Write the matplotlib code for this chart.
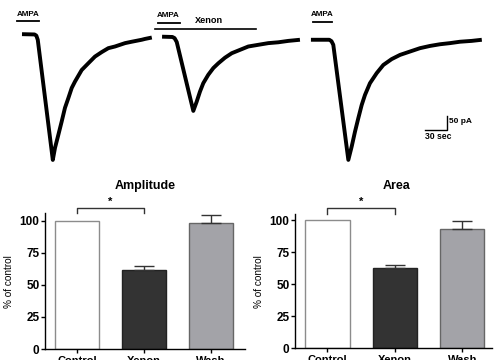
import matplotlib.pyplot as plt

plt.rcParams['font.family'] = ['Liberation Sans', 'DejaVu Sans']
plt.rcParams['font.weight'] = 'bold'

# current traces: time (sec), current (pA)
control_t = [0, 17, 19.5, 21.5, 42, 45, 49.5, 54.1, 58.6, 63.1, 67.8, 72.3, 81.4,
             90.4, 99.5, 108.7, 117.7, 126.8, 140.5, 149.6, 163.2, 167.7, 177]
control_i = [-1, -2, -6, -21, -450, -407, -361, -313, -264, -230, -193, -170, -129,
             -105, -81, -65, -51, -45, -33, -28, -21, -18, -13]
xenon_t = [191, 205, 208, 211, 233.6, 238.2, 242.7, 247.2, 254, 260.9, 267.7, 276.8,
           286, 297.3, 308.6, 322.2, 335.9, 349.5, 363.2, 379]
xenon_i = [-10, -11, -15, -29, -275, -242, -206, -176, -146, -122, -105, -85,
           -69, -57, -45, -39, -33, -30, -25, -21]
wash_t = [394, 419, 422, 424.5, 445, 449.6, 454.1, 458.6, 463.2, 467.7, 474.5, 483.7,
          492.7, 504.1, 515.5, 529.1, 542.7, 556.4, 570, 583.6, 597.3, 613.2, 627]
wash_i = [-21, -21, -26, -39, -450, -402, -349, -301, -254, -218, -176, -140,
          -111, -90, -75, -63, -51, -43, -37, -33, -28, -25, -21]

# AMPA application bars (start, end) in sec
ampa_bars = [(-7, 23), (185, 215), (397, 423)]
xenon_bar = (181, 319)

# bar chart values (% of control)
groups = ['Control', 'Xenon', 'Wash']
amp_mean = [100, 61.5, 98.5]
amp_err = [0, 3.3, 6]
area_mean = [100, 62.7, 93]
area_err = [0, 2.5, 6]

face = ['white', '#333333', '#a3a3a8']
edge = ['#8c8c8c', '#222222', '#666666']

fig = plt.figure(figsize=(4.95, 3.6), dpi=100)

# ---- traces
ax = fig.add_axes([0, 1 - 170 / 360, 1, 170 / 360])
for t, i in [(control_t, control_i), (xenon_t, xenon_i), (wash_t, wash_i)]:
    ax.plot(t, i, color='black', lw=2.8, solid_joinstyle='round', solid_capstyle='butt')
for (a, b), y in zip(ampa_bars, [46, 39, 43]):
    ax.plot([a, b], [y, y], color='black', lw=1.3)
    ax.text((a + b) / 2, y + 25, 'AMPA', ha='center', va='center', fontsize=5.8)
ax.plot(xenon_bar, [18, 18], color='black', lw=1.2)
ax.text(255, 48, 'Xenon', ha='center', va='center', fontsize=6.6)
# scale bar
ax.plot([549, 579, 579], [-343, -343, -293], color='black', lw=1)
ax.text(582, -314, '50 pA', ha='left', va='center', fontsize=6)
ax.text(549, -366, '30 sec', ha='left', va='center', fontsize=6.2)
ax.set_xlim(-30, 645)
ax.set_ylim(-486, 121)
ax.axis('off')


def bar_panel(rect, means, errs, ytop, xright, bracket_y, title, title_x):
    bx = fig.add_axes(rect)
    x = range(len(groups))
    bx.bar(x, means, width=0.657, color=face, edgecolor=edge, linewidth=1)
    for xi, m, e in zip(x, means, errs):
        if e > 0:
            bx.errorbar(xi, m, yerr=[[0], [e]], color='#333333', lw=1,
                        capsize=7, capthick=1)
    bx.plot([0, 0, 1, 1], [bracket_y - 4, bracket_y, bracket_y, bracket_y - 4],
            color='#333333', lw=1, clip_on=False)
    bx.text(0.5, bracket_y + 1, '*', ha='center', va='bottom', fontsize=8)
    bx.set_xlim(-0.48, xright)
    bx.set_ylim(0, ytop)
    bx.set_yticks([0, 25, 50, 75, 100])
    bx.set_xticks(list(x))
    bx.set_xticklabels(groups, fontsize=8)
    bx.tick_params(axis='y', labelsize=8.5, length=3, width=1, pad=1)
    bx.tick_params(axis='x', length=3, width=1, pad=2)
    bx.spines['top'].set_visible(False)
    bx.spines['right'].set_visible(False)
    bx.spines['left'].set_linewidth(1)
    bx.spines['bottom'].set_linewidth(1)
    bx.set_ylabel('% of control', fontsize=7.2, labelpad=4)
    fig.text(title_x, 1 - 186 / 360, title, ha='center', va='center', fontsize=9)
    return bx


bar_panel([45 / 495, 11 / 360, 200 / 495, 135.7 / 360], amp_mean, amp_err,
          106, 2.507, 110, 'Amplitude', 145 / 495)
bar_panel([295 / 495, 11.7 / 360, 197 / 495, 134.3 / 360], area_mean, area_err,
          104.7, 2.44, 109, 'Area', 397 / 495)

fig.savefig('out.png', dpi=100)
